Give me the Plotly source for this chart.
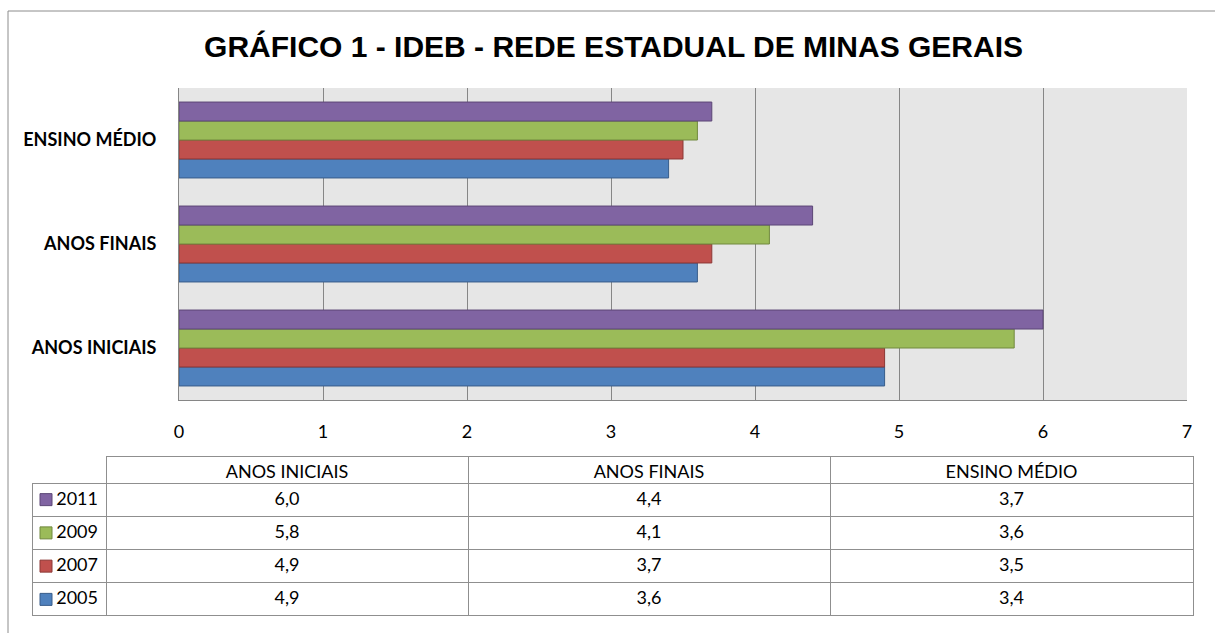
"""IDEB chart for the Minas Gerais state network, with data table below."""

import plotly.graph_objects as go

W, H = 1215, 633

categories = ["ANOS INICIAIS", "ANOS FINAIS", "ENSINO MÉDIO"]
years = ["2005", "2007", "2009", "2011"]
ideb_2005 = [4.9, 3.6, 3.4]
ideb_2007 = [4.9, 3.7, 3.5]
ideb_2009 = [5.8, 4.1, 3.6]
ideb_2011 = [6.0, 4.4, 3.7]
x_ticks = [0, 1, 2, 3, 4, 5, 6, 7]

series = [ideb_2005, ideb_2007, ideb_2009, ideb_2011]
fills = ["#4F81BD", "#C0504D", "#9BBB59", "#8064A2"]
edges = ["#385D8A", "#8C3836", "#71893F", "#5C4776"]

BODY_FONT = "Lato, Calibri, sans-serif"
GRID = "#868686"
TABLE_LINE = "#8f8f8f"
CLEAR = "rgba(0,0,0,0)"


def px_x(v):
    return v / W


def px_y(v):
    return 1 - v / H


def br(v):
    return f"{v:.1f}".replace(".", ",")


fig = go.Figure()

for year, values, fill, edge in zip(years, series, fills, edges):
    fig.add_trace(
        go.Bar(
            name=year,
            y=categories,
            x=values,
            orientation="h",
            marker=dict(color=fill, line=dict(color=edge, width=1)),
            showlegend=False,
            hoverinfo="x+name",
        )
    )

# legend keys for the table's first column (drawn under the table, whose
# first column is left transparent so they show through)
fig.add_trace(
    go.Scatter(
        x=[0] * len(years),
        y=years,
        mode="markers",
        marker=dict(symbol="square", size=12, color=fills, line=dict(color=edges, width=1)),
        xaxis="x2",
        yaxis="y2",
        showlegend=False,
        hoverinfo="skip",
    )
)

# data table, newest year on top like the original
order = list(range(len(years)))[::-1]
year_col = [years[i] for i in order]
value_cols = [[br(series[i][c]) for i in order] for c in range(len(categories))]

fig.add_trace(
    go.Table(
        domain=dict(x=[px_x(32), px_x(1193)], y=[px_y(616), px_y(456)]),
        columnwidth=[74, 362, 362, 363],
        header=dict(
            values=[""] + categories,
            height=27,
            align="center",
            fill_color=[CLEAR, "white", "white", "white"],
            line=dict(color=[CLEAR, TABLE_LINE, TABLE_LINE, TABLE_LINE], width=1),
            font=dict(family=BODY_FONT, size=18, color="black"),
        ),
        cells=dict(
            values=[year_col] + value_cols,
            height=33,
            align=["right", "center", "center", "center"],
            fill_color=[CLEAR, "white", "white", "white"],
            line=dict(color=TABLE_LINE, width=1),
            font=dict(family=BODY_FONT, size=18, color="black"),
        ),
    )
)

fig.update_layout(
    width=W,
    height=H,
    margin=dict(l=0, r=0, t=0, b=0),
    paper_bgcolor="white",
    plot_bgcolor=CLEAR,
    barmode="group",
    bargap=0.27,
    bargroupgap=0,
    title=dict(
        text="<b>GRÁFICO 1 - IDEB - REDE ESTADUAL DE MINAS GERAIS</b>",
        x=0.505,
        xanchor="center",
        y=px_y(46),
        yanchor="middle",
        font=dict(family="Liberation Sans, Arial, sans-serif", size=30, color="black"),
    ),
    xaxis=dict(
        domain=[px_x(179), px_x(1187)],
        range=[0, 7],
        tickvals=x_ticks,
        showgrid=True,
        gridcolor=GRID,
        gridwidth=1,
        showline=True,
        linecolor=GRID,
        ticks="",
        ticklabelstandoff=15,
        zeroline=False,
        automargin=False,
        tickfont=dict(family=BODY_FONT, size=18, color="black"),
    ),
    yaxis=dict(
        domain=[px_y(400), px_y(88)],
        showline=True,
        linecolor=GRID,
        linewidth=1,
        ticks="",
        ticklabelstandoff=18,
        automargin=False,
        tickfont=dict(family=BODY_FONT, size=18, color="black", weight="bold"),
    ),
    xaxis2=dict(
        domain=[px_x(39), px_x(53)],
        range=[-1, 1],
        visible=False,
        fixedrange=True,
    ),
    yaxis2=dict(
        domain=[px_y(616), px_y(483)],
        type="category",
        range=[-0.5, len(years) - 0.5],
        visible=False,
        fixedrange=True,
    ),
    shapes=[
        # chart frame
        dict(
            type="rect",
            xref="paper",
            yref="paper",
            x0=px_x(8),
            x1=px_x(1230),
            y0=px_y(650),
            y1=px_y(11),
            line=dict(color="#8c8c8c", width=1),
            layer="below",
        ),
        # grey plot area
        dict(
            type="rect",
            xref="x domain",
            yref="y domain",
            x0=0,
            x1=1,
            y0=0,
            y1=1,
            fillcolor="#e6e6e6",
            line=dict(width=0),
            layer="below",
        ),
    ],
)

fig.write_html(
    "out.html",
    config={"displayModeBar": False},
    post_script="document.body.style.margin='0';",
)
